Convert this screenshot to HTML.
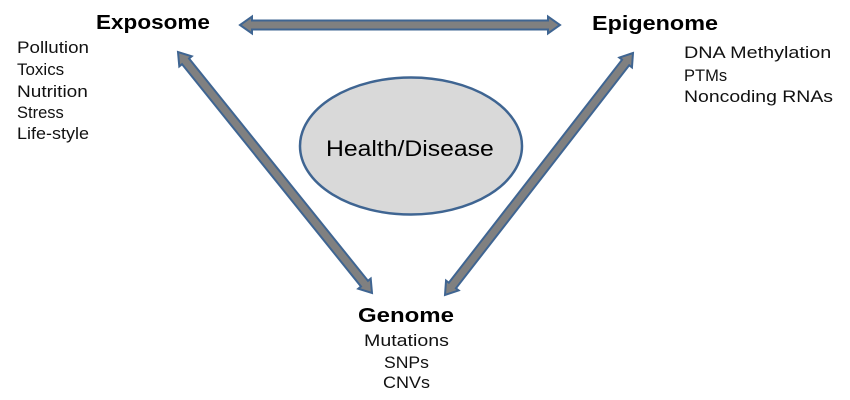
<!DOCTYPE html>
<html>
<head>
<meta charset="utf-8">
<style>
  html, body { margin:0; padding:0; background:#fff; }
  body { width:850px; height:400px; overflow:hidden; }
  svg { display:block; }
  text { font-family: "Liberation Sans", sans-serif; fill:#000; }
  .t { font-weight:bold; font-size:20px; }
  .l { font-size:16.5px; fill:#111; }
</style>
</head>
<body>
<svg width="850" height="400" viewBox="0 0 850 400" xmlns="http://www.w3.org/2000/svg">
  <!-- Ellipse -->
  <ellipse cx="411" cy="146" rx="111" ry="68.5" fill="#d9d9d9" stroke="#3f6592" stroke-width="2.5"/>
  <text transform="translate(326,156) scale(1.125,1)" font-size="22" fill="#222">Health/Disease</text>

  <!-- Horizontal double arrow -->
  <polygon points="240,25 252,33.5 252,29.5 548,29.5 548,33.5 560,25 548,16.5 548,20.5 252,20.5 252,16.5"
    fill="#808080" stroke="#3f6592" stroke-width="2" stroke-linejoin="miter"/>

  <!-- Left diagonal double arrow -->
  <polygon points="178,52 179.29,66.37 182.01,64.17 360.97,286.47 358.25,288.67 372,293 370.71,278.63 367.99,280.83 189.03,58.53 191.75,56.33"
    fill="#808080" stroke="#3f6592" stroke-width="2" stroke-linejoin="miter"/>

  <!-- Right diagonal double arrow -->
  <polygon points="633,53 619.32,57.57 622.09,59.72 448.81,282.76 446.04,280.61 445,295 458.68,290.43 455.91,288.28 629.19,65.24 631.96,67.39"
    fill="#808080" stroke="#3f6592" stroke-width="2" stroke-linejoin="miter"/>

  <!-- Exposome -->
  <text class="t" transform="translate(96,29) scale(1.127,1)">Exposome</text>
  <text class="l" transform="translate(17,53) scale(1.138,1)">Pollution</text>
  <text class="l" transform="translate(17,75) scale(1.03,1)">Toxics</text>
  <text class="l" transform="translate(17,97) scale(1.154,1)">Nutrition</text>
  <text class="l" transform="translate(17,118) scale(1.0,1)">Stress</text>
  <text class="l" transform="translate(17,139) scale(1.091,1)">Life-style</text>

  <!-- Epigenome -->
  <text class="t" transform="translate(592,30) scale(1.169,1)">Epigenome</text>
  <text class="l" transform="translate(684,58) scale(1.199,1)">DNA Methylation</text>
  <text class="l" transform="translate(684,81) scale(1.0,1)">PTMs</text>
  <text class="l" transform="translate(684,102) scale(1.178,1)">Noncoding RNAs</text>

  <!-- Genome -->
  <text class="t" transform="translate(358,322) scale(1.2,1)">Genome</text>
  <text class="l" transform="translate(364,346) scale(1.188,1)">Mutations</text>
  <text class="l" transform="translate(384,368) scale(1.067,1)">SNPs</text>
  <text class="l" transform="translate(383,388) scale(1.09,1)">CNVs</text>
</svg>
</body>
</html>
